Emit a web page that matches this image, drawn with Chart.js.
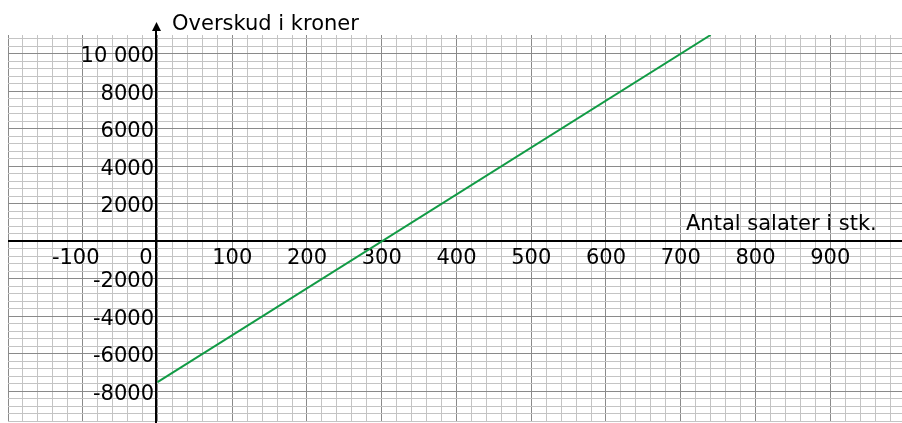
<!DOCTYPE html>
<html lang="da">
<head>
  <meta charset="UTF-8">
  <title>Overskud</title>
  <script src="https://cdn.jsdelivr.net/npm/chart.js"></script>
  <style>
    html, body { margin: 0; padding: 0; background: #fff; overflow: hidden; }
    #wrap { width: 902px; height: 423px; }
  </style>
</head>
<body>
  <div id="wrap"><canvas id="myChart"></canvas></div>

<script>
  // data
  var linjeX = [0, 740];
  var linjeY = [-7500, 11000];

  var xLabels = [-100, 0, 100, 200, 300, 400, 500, 600, 700, 800, 900];
  var yLabels = [10000, 8000, 6000, 4000, 2000, -2000, -4000, -6000, -8000];

  var yTitle = 'Overskud i kroner';
  var xTitle = 'Antal salater i stk.';

  var punkter = [];
  for (var i = 0; i < linjeX.length; i++) {
    punkter.push({ x: linjeX[i], y: linjeY[i] });
  }

  var FONT = '21px "DejaVu Sans", Verdana, sans-serif';

  function fmt(v) {
    // 10 000 with a space, the rest plain
    if (Math.abs(v) >= 10000) {
      var s = String(Math.abs(v));
      s = s.slice(0, s.length - 3) + ' ' + s.slice(-3);
      return (v < 0 ? '-' : '') + s;
    }
    return String(v);
  }

  // graph paper: minor line every 20 stk / 400 kr
  function gitter(fra, til, step) {
    return function (scale) {
      var t = [];
      for (var v = fra; v <= til; v += step) t.push({ value: v });
      scale.ticks = t;
    };
  }

  // axes, arrow and texts drawn on top of the grid
  const akser = {
    id: 'akser',
    beforeDatasetsDraw(chart) {
      const c = chart.ctx;
      const sx = chart.scales.x;
      const sy = chart.scales.y;
      const x0 = Math.round(sx.getPixelForValue(0)) - 1;
      const y0 = Math.round(sy.getPixelForValue(0));

      c.save();
      c.strokeStyle = '#000';
      c.lineWidth = 2;
      c.beginPath();
      c.moveTo(chart.chartArea.left, y0);
      c.lineTo(chart.chartArea.right, y0);
      c.moveTo(x0, 28);
      c.lineTo(x0, 423);
      c.stroke();

      // arrow on top of y axis
      c.fillStyle = '#000';
      c.beginPath();
      c.moveTo(x0 + 0.5, 22);
      c.lineTo(x0 + 5, 31);
      c.lineTo(x0 - 4, 31);
      c.closePath();
      c.fill();

      c.font = FONT;
      c.fillStyle = '#000';
      c.textBaseline = 'alphabetic';

      // x labels
      xLabels.forEach(function (v) {
        var px = sx.getPixelForValue(v);
        if (v === 0) {
          c.textAlign = 'right';
          px = px - 5;
        } else if (v < 0) {
          c.textAlign = 'center';
          px = px - 7;
        } else {
          c.textAlign = 'center';
        }
        c.fillText(fmt(v), px, y0 + 23);
      });

      // y labels
      c.textAlign = 'right';
      yLabels.forEach(function (v) {
        var py = sy.getPixelForValue(v);
        c.fillText(fmt(v), x0 - 2, py + 8.5);
      });

      c.textAlign = 'left';
      c.fillText(yTitle, 172, 30);
      c.fillText(xTitle, 686, 230);
      c.restore();
    }
  };

  const ctx = document.getElementById('myChart').getContext('2d');
  const myChart = new Chart(ctx, {
    type: 'line',
    data: {
      datasets: [{
        label: yTitle,
        data: punkter,
        borderColor: '#119b45',
        borderWidth: 2,
        pointRadius: 0,
        fill: false,
        tension: 0
      }]
    },
    options: {
      responsive: true,
      maintainAspectRatio: false,
      animation: false,
      layout: { padding: { left: 8, top: 35, right: 0, bottom: 1.5 } },
      plugins: {
        legend: { display: false },
        tooltip: { enabled: false }
      },
      scales: {
        x: {
          type: 'linear',
          min: -200,
          max: 996,
          afterBuildTicks: gitter(-200, 980, 20),
          border: { display: false },
          ticks: { display: false, autoSkip: false },
          grid: {
            drawTicks: false,
            lineWidth: 1,
            color: function (c) {
              return c.tick && c.tick.value % 100 === 0 ? '#8a8a8a' : '#c4c4c4';
            }
          }
        },
        y: {
          type: 'linear',
          min: -9600,
          max: 11000,
          afterBuildTicks: gitter(-9600, 10800, 400),
          border: { display: false },
          ticks: { display: false, autoSkip: false },
          grid: {
            drawTicks: false,
            lineWidth: 1,
            color: function (c) {
              return c.tick && c.tick.value % 2000 === 0 ? '#8a8a8a' : '#c4c4c4';
            }
          }
        }
      }
    },
    plugins: [akser]
  });
</script>
</body>
</html>
